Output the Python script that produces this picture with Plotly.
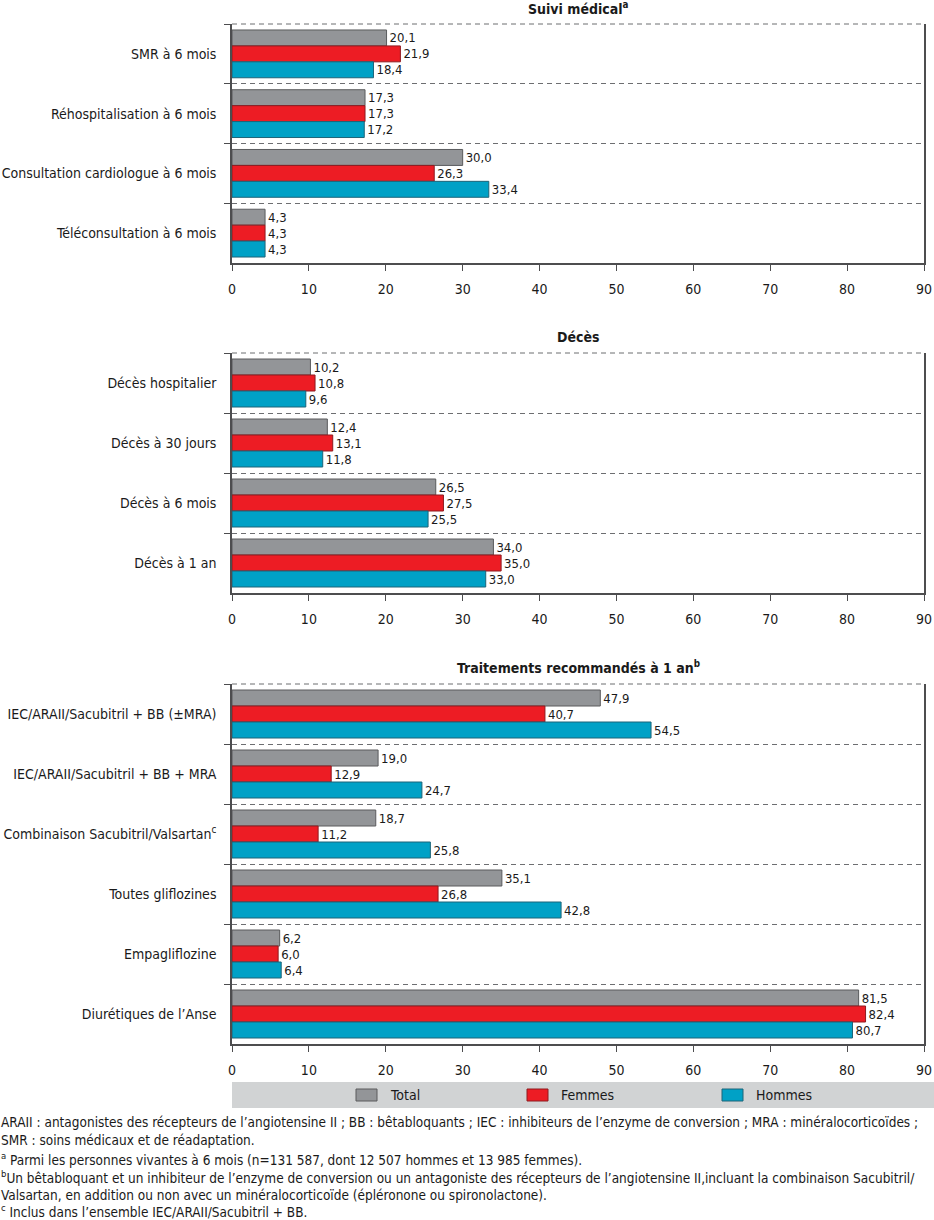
import plotly.graph_objects as go
from plotly.subplots import make_subplots

W, H = 934, 1220
FONT = "DejaVu Sans Condensed, Liberation Sans Narrow, Arial Narrow, sans-serif"

series = ["Total", "Femmes", "Hommes"]
colors = ["#939598", "#ED1C24", "#00A1C6"]
edges = ["#5A5B5D", "#8E1A1F", "#1D6478"]

titles = ["<b>Suivi médical<sup>a</sup></b>", "<b>Décès</b>", "<b>Traitements recommandés à 1 an<sup>b</sup></b>"]

cat1 = ["SMR à 6 mois", "Réhospitalisation à 6 mois", "Consultation cardiologue à 6 mois", "Téléconsultation à 6 mois"]
total1 = [20.1, 17.3, 30.0, 4.3]
femmes1 = [21.9, 17.3, 26.3, 4.3]
hommes1 = [18.4, 17.2, 33.4, 4.3]

cat2 = ["Décès hospitalier", "Décès à 30 jours", "Décès à 6 mois", "Décès à 1 an"]
total2 = [10.2, 12.4, 26.5, 34.0]
femmes2 = [10.8, 13.1, 27.5, 35.0]
hommes2 = [9.6, 11.8, 25.5, 33.0]

cat3 = ["IEC/ARAII/Sacubitril + BB (±MRA)", "IEC/ARAII/Sacubitril + BB + MRA",
        "Combinaison Sacubitril/Valsartan<sup>c</sup>", "Toutes gliflozines",
        "Empagliflozine", "Diurétiques de l’Anse"]
total3 = [47.9, 19.0, 18.7, 35.1, 6.2, 81.5]
femmes3 = [40.7, 12.9, 11.2, 26.8, 6.0, 82.4]
hommes3 = [54.5, 24.7, 25.8, 42.8, 6.4, 80.7]

x_ticks = [0, 10, 20, 30, 40, 50, 60, 70, 80, 90]

footnotes = [
    "ARAII : antagonistes des récepteurs de l’angiotensine II ; BB : bêtabloquants ; IEC : inhibiteurs de l’enzyme de conversion ; MRA : minéralocorticoïdes ;",
    "SMR : soins médicaux et de réadaptation.",
    "<sup>a</sup> Parmi les personnes vivantes à 6 mois (n=131 587, dont 12 507 hommes et 13 985 femmes).",
    "<sup>b</sup>Un bêtabloquant et un inhibiteur de l’enzyme de conversion ou un antagoniste des récepteurs de l’angiotensine II,incluant la combinaison Sacubitril/",
    "Valsartan, en addition ou non avec un minéralocorticoïde (épléronone ou spironolactone).",
    "<sup>c</sup> Inclus dans l’ensemble IEC/ARAII/Sacubitril + BB.",
]

panels = [
    (cat1, [total1, femmes1, hommes1]),
    (cat2, [total2, femmes2, hommes2]),
    (cat3, [total3, femmes3, hommes3]),
]

# pixel layout (top, bottom) of each plot area
px_boxes = [(24, 263), (353, 593), (684, 1044)]
title_px = [8, 337, 667]
x_left, x_right = 232, 924

fig = make_subplots(rows=3, cols=1)

AX = "#4D4D4F"
GRID = "#6D6E71"
for p, (cats, vals) in enumerate(panels):
    for s, name in enumerate(series):
        fig.add_trace(go.Bar(
            y=cats, x=vals[s], orientation="h", name=name,
            marker=dict(color=colors[s], line=dict(color=edges[s], width=1)),
            texttemplate="%{x:.1f}", textposition="outside",
            textfont=dict(size=13, color="#1a1a1a", family=FONT),
            constraintext="none", cliponaxis=False,
            showlegend=False, hoverinfo="skip",
        ), row=p + 1, col=1)
    top, bot = px_boxes[p]
    yname = "yaxis" if p == 0 else f"yaxis{p+1}"
    xname = "xaxis" if p == 0 else f"xaxis{p+1}"
    fig.layout[yname].update(
        domain=[1 - bot / H, 1 - top / H],
        type="category", autorange="reversed",
        tickson="boundaries", ticks="outside", ticklen=6, tickcolor=AX,
        showgrid=True, griddash="5px,4px", gridcolor=GRID, gridwidth=1,
        showline=True, mirror=True, linecolor=AX, linewidth=1.5,
        tickfont=dict(size=14, color="#1a1a1a", family=FONT),
        ticklabelstandoff=11, automargin=False, fixedrange=True,
    )
    fig.layout[xname].update(
        domain=[x_left / W, x_right / W],
        range=[0, 90], tickvals=x_ticks, ticks="outside", ticklen=6, tickcolor=AX,
        showgrid=False, zeroline=False, showline=True, linecolor=AX, linewidth=1.5,
        tickfont=dict(size=14, color="#1a1a1a", family=FONT),
        ticklabelstandoff=6, automargin=False, fixedrange=True,
    )
    sfx = "" if p == 0 else str(p + 1)
    # dashed line closing the top of each panel
    fig.add_shape(type="line", xref=f"x{sfx} domain", yref=f"y{sfx} domain",
                  x0=0, x1=1, y0=1, y1=1,
                  line=dict(color=GRID, width=1, dash="5px,4px"))
    fig.add_annotation(
        text=titles[p], xref="paper", yref="paper",
        x=(x_left + x_right) / 2 / W, y=1 - title_px[p] / H,
        xanchor="center", yanchor="middle", showarrow=False,
        font=dict(size=14, color="#1a1a1a", family=FONT),
    )

# legend band
fig.add_shape(type="rect", xref="paper", yref="paper",
              x0=x_left / W, x1=1, y0=1 - 1108 / H, y1=1 - 1082 / H,
              fillcolor="#D1D3D4", line=dict(width=0), layer="below")
leg_sw = [356, 527, 722]
for s, name in enumerate(series):
    x0 = leg_sw[s]
    fig.add_shape(type="rect", xref="paper", yref="paper",
                  x0=x0 / W, x1=(x0 + 21) / W, y0=1 - 1101 / H, y1=1 - 1089 / H,
                  fillcolor=colors[s], line=dict(color=edges[s], width=1))
    fig.add_annotation(text=name, xref="paper", yref="paper",
                       x=(x0 + 32) / W, y=1 - 1095 / H, xanchor="left", yanchor="middle",
                       showarrow=False, font=dict(size=14, color="#1a1a1a", family=FONT))

foot_y = [1122, 1140, 1159, 1177, 1195, 1211]
for t, yy in zip(footnotes, foot_y):
    fig.add_annotation(text=t, xref="paper", yref="paper", x=0, y=1 - yy / H,
                       xanchor="left", yanchor="middle", showarrow=False, align="left",
                       borderpad=0,
                       font=dict(size=13.5, color="#1a1a1a", family=FONT))

fig.update_layout(
    width=W, height=H, margin=dict(l=0, r=0, t=0, b=0),
    barmode="group", bargap=0.2, bargroupgap=0,
    separators=", ", plot_bgcolor="white", paper_bgcolor="white",
    font=dict(family=FONT, color="#1a1a1a"), showlegend=False,
)

fig.write_html("out.html", config={"displayModeBar": False},
               post_script="document.body.style.margin='0px';")
